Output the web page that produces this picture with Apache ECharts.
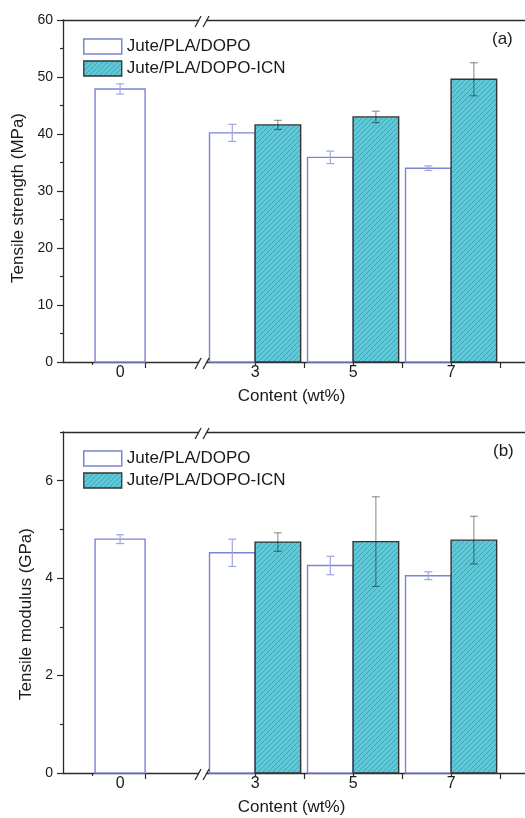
<!DOCTYPE html>
<html><head><meta charset="utf-8">
<script src="https://cdn.jsdelivr.net/npm/echarts@6/dist/echarts.min.js"></script>
<style>html,body{margin:0;padding:0;background:#fff}#c{width:525px;height:818px}</style>
</head><body><div id="c"></div>
<script>
// ---------------- data ----------------
const categories = ['0', '3', '5', '7'];
const seriesNames = ['Jute/PLA/DOPO', 'Jute/PLA/DOPO-ICN'];
// Tensile strength (MPa)
const strengthDOPO = [47.9, 40.2, 35.9, 34.0];
const strengthDOPOErr = [0.9, 1.5, 1.1, 0.4];
const strengthICN = [null, 41.6, 43.0, 49.6];
const strengthICNErr = [null, 0.8, 1.0, 2.9];
// Tensile modulus (GPa)
const modulusDOPO = [4.80, 4.52, 4.26, 4.05];
const modulusDOPOErr = [0.09, 0.28, 0.19, 0.08];
const modulusICN = [null, 4.74, 4.75, 4.78];
const modulusICNErr = [null, 0.19, 0.92, 0.49];
// tick labels
const strengthTicks = [0, 10, 20, 30, 40, 50, 60];
const strengthMinor = [5, 15, 25, 35, 45, 55];
const modulusTicks = [0, 2, 4, 6];
const modulusMinor = [1, 3, 5, 7];

// ---------------- layout (broken x axis) ----------------
const slotPos = [0.245, 3, 5, 7];          // axis position of each category
const xMajorTicks = [0.755, 4, 6, 8];
const xMinorTicks = [-0.33, 3, 5, 7];
const breakPos = 1.918;
const GRID_W = 462;
const X_MIN = -0.92, X_MAX = X_MIN + GRID_W / 49;
const SINGLE_W = 1.02, PAIR_W = 0.93;

const FONT = "'Liberation Sans', Arial, sans-serif";
const TXT = '#1a1a1a';
const AX = '#2a2a2a';
const DOPO_EDGE = '#7b84d3';
const DOPO_ERR = '#9ea6e0';
const ICN_EDGE = '#333333';
const ICN_ERR = 'rgba(0,0,0,0.4)';

function hatchCanvas() {
  const n = 5;
  const c = document.createElement('canvas');
  c.width = n; c.height = n;
  const g = c.getContext('2d');
  g.fillStyle = '#5ec9d9';
  g.fillRect(0, 0, n, n);
  g.strokeStyle = 'rgba(30,105,120,0.5)';
  g.lineWidth = 0.8;
  g.beginPath();
  g.moveTo(0, n); g.lineTo(n, 0);
  g.moveTo(-1, 1); g.lineTo(1, -1);
  g.moveTo(n - 1, n + 1); g.lineTo(n + 1, n - 1);
  g.stroke();
  return c;
}
const hatch = { image: hatchCanvas(), repeat: 'repeat' };

function makeBarRender(kind) {
  return function (params, api) {
    const slot = api.value(0), v = api.value(1), e = api.value(2), cat = api.value(3);
    let x0, x1;
    if (kind === 'dopo') {
      if (cat === 0) { x0 = slot - SINGLE_W / 2; x1 = slot + SINGLE_W / 2; }
      else { x0 = slot - PAIR_W; x1 = slot; }
    } else { x0 = slot; x1 = slot + PAIR_W; }
    const tl = api.coord([x0, v]);
    const br = api.coord([x1, 0]);
    const xm = api.coord([(x0 + x1) / 2, v])[0];
    const hi = api.coord([(x0 + x1) / 2, v + e])[1];
    const lo = api.coord([(x0 + x1) / 2, v - e])[1];
    const isD = kind === 'dopo';
    const ec = isD ? DOPO_ERR : ICN_ERR;
    return {
      type: 'group',
      children: [
        { type: 'rect', shape: { x: tl[0], y: tl[1], width: br[0] - tl[0], height: br[1] - tl[1] },
          style: { fill: isD ? '#ffffff' : hatch, stroke: isD ? DOPO_EDGE : ICN_EDGE, lineWidth: 1.4 } },
        { type: 'line', shape: { x1: xm, y1: hi, x2: xm, y2: lo }, style: { stroke: ec, lineWidth: 1.2 } },
        { type: 'line', shape: { x1: xm - 4, y1: hi, x2: xm + 4, y2: hi }, style: { stroke: ec, lineWidth: 1.2 } },
        { type: 'line', shape: { x1: xm - 4, y1: lo, x2: xm + 4, y2: lo }, style: { stroke: ec, lineWidth: 1.2 } }
      ]
    };
  };
}

function breakRender(yMax) {
  return function (params, api) {
    const top = api.coord([api.value(0), yMax]);
    const bot = api.coord([api.value(0), 0]);
    const ch = [];
    [top, bot].forEach(function (p) {
      const cx = p[0], cy = p[1];
      ch.push({ type: 'rect', shape: { x: cx - 3, y: cy - 2, width: 7.5, height: 4 }, style: { fill: '#fff' } });
      ch.push({ type: 'line', shape: { x1: cx - 7, y1: cy + 7, x2: cx - 1, y2: cy - 4 }, style: { stroke: AX, lineWidth: 1.3 } });
      ch.push({ type: 'line', shape: { x1: cx + 1, y1: cy + 7, x2: cx + 7, y2: cy - 4 }, style: { stroke: AX, lineWidth: 1.3 } });
    });
    return { type: 'group', children: ch };
  };
}

function toData(vals, errs) {
  const out = [];
  vals.forEach(function (v, i) { if (v != null) out.push([slotPos[i], v, errs[i], i]); });
  return out;
}

const grids = [
  { left: 63, top: 20, width: GRID_W, height: 342, show: false },
  { left: 63, top: 432, width: GRID_W, height: 341, show: false }
];

function catLabel(v) {
  let best = 0;
  slotPos.forEach(function (s, i) { if (Math.abs(s - v) < Math.abs(slotPos[best] - v)) best = i; });
  return categories[best];
}

function xAxes(gi) {
  return [
    { type: 'value', gridIndex: gi, min: X_MIN, max: X_MAX, position: 'bottom',
      name: 'Content (wt%)', nameLocation: 'middle', nameGap: 26,
      nameTextStyle: { fontFamily: FONT, fontSize: 17, color: TXT, padding: [0, 5, 0, 0] },
      axisLine: { show: true, onZero: false, lineStyle: { color: AX, width: 1.3 } },
      axisTick: { show: true, inside: false, length: 6, lineStyle: { color: AX, width: 1.2 }, customValues: xMajorTicks },
      axisLabel: { show: true, customValues: slotPos, margin: 3, fontFamily: FONT, fontSize: 16, color: TXT, formatter: catLabel },
      splitLine: { show: false } },
    { type: 'value', gridIndex: gi, min: X_MIN, max: X_MAX, position: 'bottom',
      axisLine: { show: false, onZero: false },
      axisTick: { show: true, inside: false, length: 3, lineStyle: { color: AX, width: 1.2 }, customValues: xMinorTicks },
      axisLabel: { show: false }, splitLine: { show: false } },
    { type: 'value', gridIndex: gi, min: X_MIN, max: X_MAX, position: 'top',
      axisLine: { show: true, onZero: false, lineStyle: { color: AX, width: 1.3 } },
      axisTick: { show: false }, axisLabel: { show: false }, splitLine: { show: false } }
  ];
}

function yAxes(gi, max, major, minor, name, padR) {
  return [
    { type: 'value', gridIndex: gi, min: 0, max: max, interval: major[1] - major[0], position: 'left',
      name: name, nameLocation: 'middle', nameGap: 28,
      nameTextStyle: { fontFamily: FONT, fontSize: 17, color: TXT, padding: [0, padR, 0, 0] },
      axisLine: { show: true, onZero: false, lineStyle: { color: AX, width: 1.3 } },
      axisTick: { show: true, inside: false, length: 6, lineStyle: { color: AX, width: 1.2 }, customValues: major },
      axisLabel: { show: true, customValues: major, margin: 10, fontFamily: FONT, fontSize: 14, color: TXT },
      splitLine: { show: false } },
    { type: 'value', gridIndex: gi, min: 0, max: max, position: 'left', offset: 0,
      axisLine: { show: false, onZero: false },
      axisTick: { show: true, inside: false, length: 3, lineStyle: { color: AX, width: 1.2 }, customValues: minor },
      axisLabel: { show: false }, splitLine: { show: false } }
  ];
}

const legendData = [
  { name: seriesNames[0], icon: 'rect', itemStyle: { color: '#ffffff', borderColor: DOPO_EDGE, borderWidth: 1.5 } },
  { name: seriesNames[1], icon: 'rect', itemStyle: { color: hatch, borderColor: ICN_EDGE, borderWidth: 1.3 } }
];
function legend(top) {
  return { data: legendData, orient: 'vertical', left: 83, top: top, padding: 0, itemGap: 5,
    itemWidth: 38, itemHeight: 15, selectedMode: false,
    textStyle: { fontFamily: FONT, fontSize: 17, color: TXT } };
}

const option = {
  animation: false,
  backgroundColor: '#fff',
  title: [
    { text: '(a)', left: 492, top: 31, padding: 0, textStyle: { fontFamily: FONT, fontSize: 17, fontWeight: 'normal', color: TXT } },
    { text: '(b)', left: 493, top: 443, padding: 0, textStyle: { fontFamily: FONT, fontSize: 17, fontWeight: 'normal', color: TXT } }
  ],
  legend: [legend(38), legend(450)],
  grid: grids,
  xAxis: xAxes(0).concat(xAxes(1)),
  yAxis: yAxes(0, 60, strengthTicks, strengthMinor, 'Tensile strength (MPa)', 14)
    .concat(yAxes(1, 7, modulusTicks, modulusMinor, 'Tensile modulus (GPa)', 23)),
  series: [
    { type: 'custom', name: seriesNames[0], xAxisIndex: 0, yAxisIndex: 0, renderItem: makeBarRender('dopo'),
      data: toData(strengthDOPO, strengthDOPOErr), itemStyle: { color: '#fff', borderColor: DOPO_EDGE } },
    { type: 'custom', name: seriesNames[1], xAxisIndex: 0, yAxisIndex: 0, renderItem: makeBarRender('icn'),
      data: toData(strengthICN, strengthICNErr), itemStyle: { color: '#5ec8d8', borderColor: ICN_EDGE } },
    { type: 'custom', name: seriesNames[0], xAxisIndex: 3, yAxisIndex: 2, renderItem: makeBarRender('dopo'),
      data: toData(modulusDOPO, modulusDOPOErr), itemStyle: { color: '#fff', borderColor: DOPO_EDGE } },
    { type: 'custom', name: seriesNames[1], xAxisIndex: 3, yAxisIndex: 2, renderItem: makeBarRender('icn'),
      data: toData(modulusICN, modulusICNErr), itemStyle: { color: '#5ec8d8', borderColor: ICN_EDGE } },
    { type: 'custom', name: 'break-a', xAxisIndex: 0, yAxisIndex: 0, renderItem: breakRender(60), data: [[breakPos]], z: 5, silent: true },
    { type: 'custom', name: 'break-b', xAxisIndex: 3, yAxisIndex: 2, renderItem: breakRender(7), data: [[breakPos]], z: 5, silent: true }
  ]
};

const chart = echarts.init(document.getElementById('c'), null, { renderer: 'canvas' });
chart.setOption(option);
</script>
</body></html>
